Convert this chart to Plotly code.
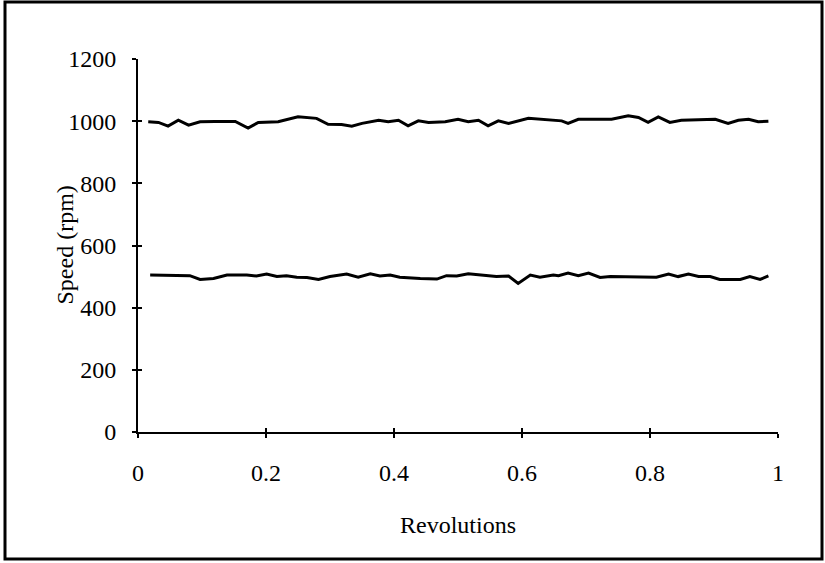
import plotly.graph_objects as go

# Upper trace (~1000 rpm)
rev_1000 = [0.016, 0.032, 0.047, 0.063, 0.079, 0.097, 0.120, 0.152, 0.172, 0.188, 0.219, 0.250,
            0.279, 0.297, 0.318, 0.334, 0.350, 0.376, 0.391, 0.407, 0.422, 0.438, 0.454, 0.480,
            0.500, 0.516, 0.532, 0.547, 0.563, 0.579, 0.610, 0.636, 0.662, 0.672, 0.688, 0.719,
            0.740, 0.766, 0.782, 0.797, 0.813, 0.831, 0.849, 0.902, 0.922, 0.938, 0.954, 0.969, 0.985]
speed_1000 = [998, 996, 984, 1003, 987, 998, 999, 999, 978, 996, 998, 1014,
              1009, 990, 989, 984, 993, 1003, 998, 1003, 985, 1001, 996, 998,
              1006, 998, 1003, 985, 1001, 993, 1009, 1006, 1001, 993, 1006, 1006,
              1006, 1017, 1012, 996, 1014, 996, 1003, 1006, 993, 1003, 1006, 998, 1000]

# Lower trace (~500 rpm)
rev_500 = [0.019, 0.050, 0.081, 0.097, 0.118, 0.139, 0.170, 0.185, 0.201, 0.217, 0.232, 0.248,
           0.264, 0.282, 0.300, 0.326, 0.344, 0.363, 0.378, 0.394, 0.409, 0.441, 0.467, 0.482,
           0.498, 0.516, 0.534, 0.560, 0.579, 0.594, 0.613, 0.628, 0.649, 0.657, 0.672, 0.688,
           0.704, 0.722, 0.738, 0.810, 0.829, 0.844, 0.860, 0.876, 0.894, 0.909, 0.941, 0.956,
           0.972, 0.985]
speed_500 = [505, 503, 503, 491, 494, 505, 505, 502, 508, 500, 503, 498,
             497, 491, 500, 508, 498, 509, 502, 505, 498, 494, 492, 503,
             502, 509, 505, 500, 502, 478, 505, 498, 505, 503, 511, 503,
             511, 497, 500, 498, 508, 500, 508, 500, 500, 491, 491, 500,
             491, 502]

x_ticks = [0, 0.2, 0.4, 0.6, 0.8, 1]
x_tick_labels = ["0", "0.2", "0.4", "0.6", "0.8", "1"]
y_ticks = [0, 200, 400, 600, 800, 1000, 1200]
y_tick_labels = ["0", "200", "400", "600", "800", "1000", "1200"]

FONT = "Liberation Serif, Times New Roman, serif"

fig = go.Figure()
fig.add_trace(go.Scatter(x=rev_1000, y=speed_1000, mode="lines",
                         line=dict(color="black", width=3), showlegend=False))
fig.add_trace(go.Scatter(x=rev_500, y=speed_500, mode="lines",
                         line=dict(color="black", width=3), showlegend=False))
# invisible trace to activate overlay axes for crossing ticks
fig.add_trace(go.Scatter(x=[0], y=[0], xaxis="x2", yaxis="y2", mode="markers",
                         marker=dict(opacity=0), showlegend=False, hoverinfo="skip"))

fig.update_layout(
    width=825, height=563,
    margin=dict(l=138, r=47, t=59, b=131),
    paper_bgcolor="white", plot_bgcolor="white",
    font=dict(family=FONT, color="black", size=24),
    xaxis=dict(range=[0, 1], tickvals=x_ticks, ticktext=x_tick_labels,
               showgrid=False, zeroline=False, showline=True, linecolor="black", linewidth=2,
               ticks="outside", ticklen=4, tickwidth=2, tickcolor="black",
               ticklabelstandoff=14,
               title=dict(text="Revolutions", font=dict(family=FONT, size=24), standoff=31)),
    yaxis=dict(range=[0, 1200], tickvals=y_ticks, ticktext=y_tick_labels,
               showgrid=False, zeroline=False, showline=True, linecolor="black", linewidth=2,
               ticks="outside", ticklen=4, tickwidth=2, tickcolor="black",
               ticklabelstandoff=11),
    xaxis2=dict(range=[0, 1], overlaying="x", tickvals=x_ticks, showticklabels=False,
                ticks="inside", ticklen=4, tickwidth=2, tickcolor="black",
                showgrid=False, zeroline=False, showline=False, side="bottom", anchor="y"),
    yaxis2=dict(range=[0, 1200], overlaying="y", tickvals=y_ticks, showticklabels=False,
                ticks="inside", ticklen=4, tickwidth=2, tickcolor="black",
                showgrid=False, zeroline=False, showline=False, side="left", anchor="x"),
)

# y-axis title placed close to the tick labels like the original
fig.add_annotation(text="Speed (rpm)", xref="paper", yref="paper",
                   x=(64 - 138) / 640, y=0.5, textangle=-90, showarrow=False,
                   xanchor="center", yanchor="middle", font=dict(family=FONT, size=24))

# outer frame
fig.add_shape(type="rect", xref="paper", yref="paper",
              x0=(5 - 138) / 640, x1=(822 - 138) / 640,
              y0=(432 - 559) / 373, y1=(432 - 2) / 373,
              line=dict(color="black", width=3), layer="below")

fig.write_html("out.html", config={"displayModeBar": False},
               post_script="document.body.style.margin='0';document.body.style.overflow='hidden';")
